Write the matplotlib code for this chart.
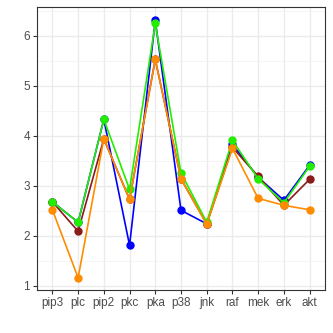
import numpy as np
import matplotlib
matplotlib.use("Agg")
import matplotlib.pyplot as plt
from matplotlib.ticker import MultipleLocator

plt.rcParams['font.family'] = ['Liberation Sans', 'DejaVu Sans']

# proteins along the x axis
proteins = ["pip3", "plc", "pip2", "pkc", "pka", "p38", "jnk", "raf", "mek", "erk", "akt"]

# one series per colour
blue_vals = [2.68, 2.27, 4.33, 1.81, 6.31, 2.51, 2.24, 3.83, 3.17, 2.71, 3.41]
darkred_vals = [2.68, 2.09, 3.94, 2.73, 5.53, 3.14, 2.24, 3.77, 3.19, 2.61, 3.13]
green_vals = [2.68, 2.27, 4.33, 2.93, 6.25, 3.26, 2.27, 3.91, 3.14, 2.66, 3.39]
orange_vals = [2.52, 1.16, 3.94, 2.73, 5.53, 3.14, 2.23, 3.75, 2.75, 2.61, 2.52]

series = [
    (blue_vals, "#0000FF"),
    (darkred_vals, "#8B1A1A"),
    (green_vals, "#22EE00"),
    (orange_vals, "#FF8C00"),
]

fig = plt.figure(figsize=(3.33, 3.33), dpi=100)
ax = fig.add_axes([0.111, 0.129, 0.865, 0.850])

x = np.arange(len(proteins))
for vals, col in series:
    ax.plot(x, vals, color=col, lw=1.2, marker="o", markersize=5, zorder=3)

ax.set_xlim(-0.6, len(proteins) - 1 + 0.6)
ax.set_ylim(0.914, 6.58)
ax.set_xticks(x)
ax.set_xticklabels(proteins)
ax.yaxis.set_major_locator(MultipleLocator(1))
ax.yaxis.set_minor_locator(MultipleLocator(0.5))

# ggplot theme_bw look
ax.set_facecolor("white")
ax.grid(True, which="major", color="#EBEBEB", lw=1.0, zorder=0)
ax.grid(True, which="minor", axis="y", color="#F2F2F2", lw=0.6, zorder=0)
for sp in ax.spines.values():
    sp.set_color("#333333")
    sp.set_linewidth(0.8)
ax.tick_params(axis="both", which="major", length=3, width=0.8, color="#333333",
               labelcolor="#4D4D4D", labelsize=8.5, pad=2)
ax.tick_params(axis="y", which="minor", length=0)

fig.savefig("out.png", dpi=100)
